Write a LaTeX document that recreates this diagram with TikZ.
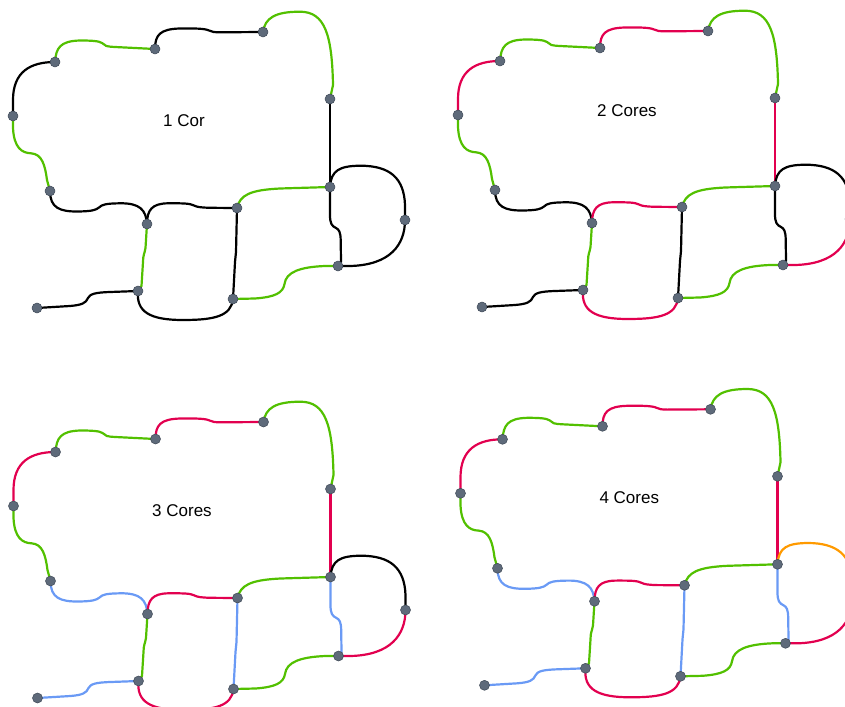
\documentclass[tikz,border=0pt]{standalone}
\usepackage{fontspec}
\setmainfont{Liberation Sans}
\usetikzlibrary{backgrounds}
\definecolor{cgreen}{HTML}{52C000}
\definecolor{cred}{HTML}{E2004F}
\definecolor{cblue}{HTML}{6A9AF5}
\definecolor{corange}{HTML}{FF9A00}
\definecolor{cblack}{HTML}{000000}
\definecolor{dotfill}{HTML}{5E6A7A}
\definecolor{dotline}{HTML}{3E4856}
\tikzset{
  edge/.style={line width=2.2pt, line cap=round, line join=round},
  lg/.style={edge, draw=cgreen},
  lr/.style={edge, draw=cred},
  lb/.style={edge, draw=cblue},
  lk/.style={edge, draw=cblack},
  lo/.style={edge, draw=corange},
  dot/.style={circle, fill=dotfill, draw=dotline, line width=0.5pt, inner sep=0pt, minimum size=10pt},
  panellabel/.style={inner sep=0pt, font=\fontsize{17}{20}\selectfont}
}
\newcommand\graphpanel{%
\node[dot] (A) at (55,62) {};
\node[dot] (B) at (155,49) {};
\node[dot] (C) at (263,32) {};
\node[dot] (D) at (330,99) {};
\node[dot] (E) at (13,116) {};
\node[dot] (F) at (50,191) {};
\node[dot] (G) at (147,224) {};
\node[dot] (H) at (237,208) {};
\node[dot] (I) at (330,187) {};
\node[dot] (J) at (405,220) {};
\node[dot] (K) at (338,266) {};
\node[dot] (L) at (138,291) {};
\node[dot] (M) at (233,299) {};
\node[dot] (N) at (37,308) {};
\begin{pgfonlayer}{background}
\draw[eAB] (A.center) .. controls (56,48) and (60,41) .. (80,40.5) .. controls (92,40.5) and (99,41) .. (102,43) .. controls (105,46) and (106,46.5) .. (115,47) -- (B.center);
\draw[eBC] (B.center) .. controls (155,35) and (160,29) .. (180,28.5) .. controls (195,28.3) and (205,28.5) .. (209,30.5) .. controls (212,32) and (214,32.2) .. (220,32.3) -- (C.center);
\draw[eCD] (C.center) .. controls (265,18) and (275,11.7) .. (300,11.7) .. controls (325,11.7) and (332,35) .. (333,85) -- (D.center);
\draw[eDI] (D.center) -- (I.center);
\draw[eAE] (A.center) .. controls (30,62) and (13,72) .. (13,100) -- (E.center);
\draw[eEF] (E.center) -- (13,128) .. controls (14,148) and (22,153) .. (31,153.3) .. controls (42,154) and (45,165) .. (47,180) -- (F.center);
\draw[eFG] (F.center) .. controls (50,208) and (60,211.7) .. (78,211.5) .. controls (92,211.3) and (96,210) .. (99,207.5) .. controls (102,204.5) and (106,203.5) .. (120,203.3) .. controls (140,203) and (146,210) .. (G.center);
\draw[eGH] (G.center) .. controls (147,210) and (152,203.5) .. (168,203.3) .. controls (185,203.2) and (190,203.5) .. (194,205.5) .. controls (197,207) and (200,207.5) .. (210,207.8) -- (H.center);
\draw[eHI] (H.center) .. controls (240,195) and (250,190) .. (280,188.5) -- (I.center);
\draw[eHM] (H.center) -- (236,252) -- (235,262) -- (M.center);
\draw[eGL] (G.center) -- (145.5,248) .. controls (144.5,254) and (143,255) .. (143,262) -- (141.5,286) -- (L.center);
\draw[eLN] (N.center) -- (70,306) .. controls (82,305) and (86,303) .. (88,298) .. controls (90,294) and (95,292.5) .. (110,292) -- (L.center);
\draw[eLM] (L.center) .. controls (136,312) and (150,320) .. (183,320) .. controls (215,320) and (231,316) .. (M.center);
\draw[eMK] (M.center) -- (255,298.5) .. controls (275,297) and (283,293) .. (284.5,284) .. controls (286,272) and (300,267) .. (325,266) -- (K.center);
\draw[eIJ] (I.center) .. controls (331,170) and (340,166) .. (360,165.7) .. controls (390,165.7) and (404,178) .. (405,205) -- (J.center);
\draw[eJK] (J.center) .. controls (405,245) and (390,265) .. (350,266) -- (K.center);
\draw[eIK] (I.center) -- (330,215) .. controls (330,224) and (332,226) .. (336,228) .. controls (339,229.5) and (340.5,232) .. (340.7,240) -- (341,262) -- (K.center);
\end{pgfonlayer}
}
\begin{document}
\begin{tikzpicture}[x=1pt, y=-1pt]
\useasboundingbox (0,0) rectangle (845,706);
\begin{scope}[name prefix=p1-,
  eAB/.style=lg, eBC/.style=lk, eCD/.style=lg, eDI/.style=lk, eAE/.style=lk, eEF/.style=lg,
  eFG/.style=lk, eGH/.style=lk, eHI/.style=lg, eHM/.style=lk, eGL/.style=lg, eLN/.style=lk,
  eLM/.style=lk, eMK/.style=lg, eIK/.style=lk, eIJ/.style=lk, eJK/.style=lk]
\graphpanel
\end{scope}
\begin{scope}[shift={(445,-1)}, name prefix=p2-,
  eAB/.style=lg, eBC/.style=lr, eCD/.style=lg, eDI/.style=lr, eAE/.style=lr, eEF/.style=lg,
  eFG/.style=lk, eGH/.style=lr, eHI/.style=lg, eHM/.style=lk, eGL/.style=lg, eLN/.style=lk,
  eLM/.style=lr, eMK/.style=lg, eIK/.style=lk, eIJ/.style=lk, eJK/.style=lr]
\graphpanel
\end{scope}
\begin{scope}[shift={(0.5,390)}, name prefix=p3-,
  eAB/.style=lg, eBC/.style=lr, eCD/.style=lg, eDI/.style=lr, eAE/.style=lr, eEF/.style=lg,
  eFG/.style=lb, eGH/.style=lr, eHI/.style=lg, eHM/.style=lb, eGL/.style=lg, eLN/.style=lb,
  eLM/.style=lr, eMK/.style=lg, eIK/.style=lb, eIJ/.style=lk, eJK/.style=lr]
\graphpanel
\end{scope}
\begin{scope}[shift={(447.5,377.3)}, name prefix=p4-,
  eAB/.style=lg, eBC/.style=lr, eCD/.style=lg, eDI/.style=lr, eAE/.style=lr, eEF/.style=lg,
  eFG/.style=lb, eGH/.style=lr, eHI/.style=lg, eHM/.style=lb, eGL/.style=lg, eLN/.style=lb,
  eLM/.style=lr, eMK/.style=lg, eIK/.style=lb, eIJ/.style=lo, eJK/.style=lr]
\graphpanel
\end{scope}
\node[panellabel] (title1) at (184,121) {1 Cor};
\node[panellabel] (title2) at (627,111) {2 Cores};
\node[panellabel] (title3) at (182,511) {3 Cores};
\node[panellabel] (title4) at (629.3,497.7) {4 Cores};
\end{tikzpicture}
\end{document}
